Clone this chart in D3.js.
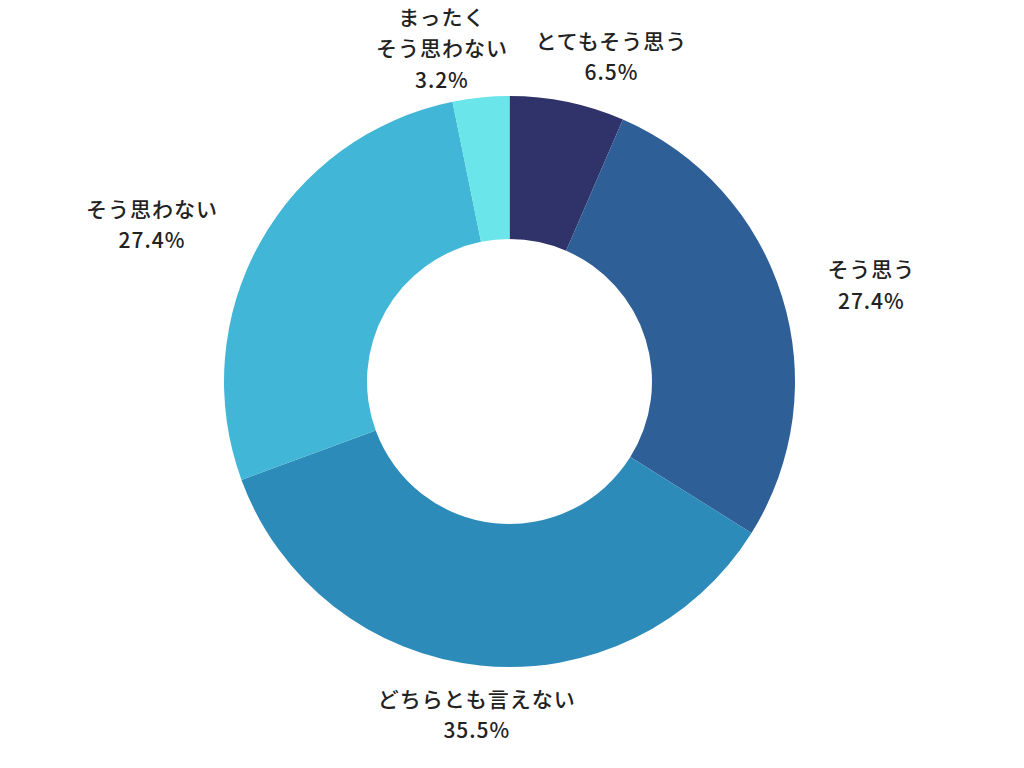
<!DOCTYPE html>
<html><head><meta charset="utf-8">
<script src="https://cdn.jsdelivr.net/npm/d3@7"></script>
<style>
html,body{margin:0;padding:0;background:#fff;}
svg{display:block;}
</style></head>
<body>
<svg id="chart" width="1024" height="768"></svg>
<script>
const categories = ["とてもそう思う", "そう思う", "どちらとも言えない", "そう思わない", "まったく\nそう思わない"];
const values = [6.5, 27.4, 35.5, 27.4, 3.2];
const colors = ["#2f3369", "#2e5f97", "#2d8bba", "#42b6d6", "#6ae5e9"];
// label nudges (layout only)
const labelNudge = [[34, 2], [42, 2], [2, -1], [-65, 5], [-34, -1]];

const svg = d3.select("#chart");
const cx = 509.5, cy = 381.5, outerR = 285.5, innerR = 142.5, labelR = 335;
const g = svg.append("g").attr("transform", `translate(${cx},${cy})`);

const pie = d3.pie().sort(null).value(d => d.v);
const data = pie(values.map((v, i) => ({v, i})));
const arc = d3.arc().innerRadius(innerR).outerRadius(outerR);

g.selectAll("path").data(data).join("path")
  .attr("d", arc)
  .attr("fill", d => colors[d.data.i]);

const fontSize = 21, lineH = 31.5;
data.forEach(d => {
  const i = d.data.i;
  const mid = (d.startAngle + d.endAngle) / 2;
  const x = Math.sin(mid) * labelR + labelNudge[i][0];
  const y = -Math.cos(mid) * labelR + labelNudge[i][1];
  const lines = categories[i].split("\n").concat([values[i].toFixed(1) + "%"]);
  const t = g.append("text")
    .attr("text-anchor", "middle")
    .attr("font-family", "'Noto Sans CJK JP', 'Noto Sans', sans-serif")
    .attr("font-size", fontSize)
    .attr("font-weight", 500)
    .attr("letter-spacing", 1)
    .attr("fill", "#222");
  const n = lines.length;
  lines.forEach((s, k) => {
    t.append("tspan")
      .attr("x", x)
      .attr("y", y + (k - (n - 1) / 2) * lineH)
      .attr("dominant-baseline", "central")
      .text(s);
  });
});
</script>
</body></html>
